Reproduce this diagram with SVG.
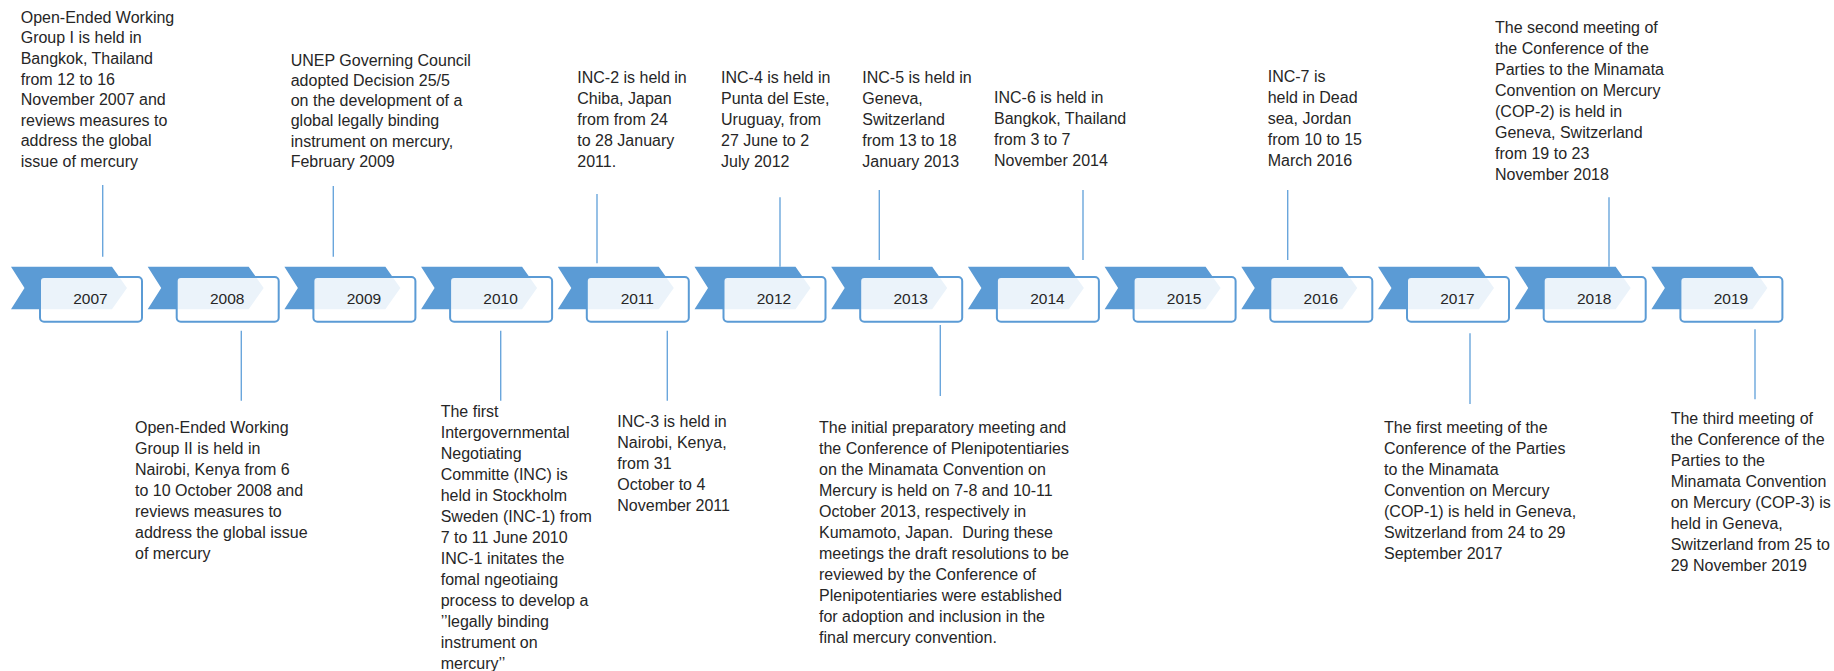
<svg xmlns="http://www.w3.org/2000/svg" xmlns:xlink="http://www.w3.org/1999/xlink" width="1834" height="671" viewBox="0 0 1834 671">
<style>
.chev{fill:#5b9bd5}
.box{fill:#ffffff;fill-opacity:0.88;stroke:#5b9bd5;stroke-width:2}
.yr{font-family:"Liberation Sans",Arial,sans-serif;font-size:15.5px;fill:#262626;text-anchor:middle}
.t{font-family:"Liberation Sans",Arial,sans-serif;font-size:16px;fill:#262626}
.ln{stroke:#6aa6dc;stroke-width:1.4;fill:none}
</style>
<defs>
<path id="chev" d="M0,266.7 L101,266.7 L116,288 L101,309.3 L0,309.3 L13.5,288 Z"/>
<rect id="box" x="29" y="277" width="102" height="44.7" rx="4" ry="4"/>
</defs>
<rect width="1834" height="671" fill="#ffffff"/>

<g id="timeline">
<g id="y2007" transform="translate(11,0)"><use xlink:href="#chev" class="chev"/><use xlink:href="#box" class="box"/><text class="yr" x="79.5" y="304">2007</text></g>
<g id="y2008" transform="translate(147.7,0)"><use xlink:href="#chev" class="chev"/><use xlink:href="#box" class="box"/><text class="yr" x="79.5" y="304">2008</text></g>
<g id="y2009" transform="translate(284.4,0)"><use xlink:href="#chev" class="chev"/><use xlink:href="#box" class="box"/><text class="yr" x="79.5" y="304">2009</text></g>
<g id="y2010" transform="translate(421.1,0)"><use xlink:href="#chev" class="chev"/><use xlink:href="#box" class="box"/><text class="yr" x="79.5" y="304">2010</text></g>
<g id="y2011" transform="translate(557.8,0)"><use xlink:href="#chev" class="chev"/><use xlink:href="#box" class="box"/><text class="yr" x="79.5" y="304">2011</text></g>
<g id="y2012" transform="translate(694.5,0)"><use xlink:href="#chev" class="chev"/><use xlink:href="#box" class="box"/><text class="yr" x="79.5" y="304">2012</text></g>
<g id="y2013" transform="translate(831.2,0)"><use xlink:href="#chev" class="chev"/><use xlink:href="#box" class="box"/><text class="yr" x="79.5" y="304">2013</text></g>
<g id="y2014" transform="translate(967.9,0)"><use xlink:href="#chev" class="chev"/><use xlink:href="#box" class="box"/><text class="yr" x="79.5" y="304">2014</text></g>
<g id="y2015" transform="translate(1104.6,0)"><use xlink:href="#chev" class="chev"/><use xlink:href="#box" class="box"/><text class="yr" x="79.5" y="304">2015</text></g>
<g id="y2016" transform="translate(1241.3,0)"><use xlink:href="#chev" class="chev"/><use xlink:href="#box" class="box"/><text class="yr" x="79.5" y="304">2016</text></g>
<g id="y2017" transform="translate(1378,0)"><use xlink:href="#chev" class="chev"/><use xlink:href="#box" class="box"/><text class="yr" x="79.5" y="304">2017</text></g>
<g id="y2018" transform="translate(1514.7,0)"><use xlink:href="#chev" class="chev"/><use xlink:href="#box" class="box"/><text class="yr" x="79.5" y="304">2018</text></g>
<g id="y2019" transform="translate(1651.4,0)"><use xlink:href="#chev" class="chev"/><use xlink:href="#box" class="box"/><text class="yr" x="79.5" y="304">2019</text></g>
</g>

<g id="connectors">
<line class="ln" x1="102.7" y1="185" x2="102.7" y2="256.7"/>
<line class="ln" x1="333.3" y1="186" x2="333.3" y2="256.7"/>
<line class="ln" x1="597" y1="194" x2="597" y2="263.3"/>
<line class="ln" x1="780" y1="197.3" x2="780" y2="266.7"/>
<line class="ln" x1="879.3" y1="190" x2="879.3" y2="260"/>
<line class="ln" x1="1083" y1="190" x2="1083" y2="260"/>
<line class="ln" x1="1287.7" y1="190" x2="1287.7" y2="260"/>
<line class="ln" x1="1609" y1="197.3" x2="1609" y2="266.7"/>
<line class="ln" x1="241.3" y1="330.7" x2="241.3" y2="400.7"/>
<line class="ln" x1="500.7" y1="330.7" x2="500.7" y2="400.7"/>
<line class="ln" x1="667.3" y1="330.7" x2="667.3" y2="400.7"/>
<line class="ln" x1="940.3" y1="325" x2="940.3" y2="396"/>
<line class="ln" x1="1470" y1="333.3" x2="1470" y2="404"/>
<line class="ln" x1="1755" y1="329.3" x2="1755" y2="399.3"/>
</g>

<g id="e2007"><text class="t" x="20.7" y="22.7"><tspan x="20.7">Open-Ended Working</tspan><tspan x="20.7" dy="20.6">Group I is held in</tspan><tspan x="20.7" dy="20.6">Bangkok, Thailand</tspan><tspan x="20.7" dy="20.6">from 12 to 16</tspan><tspan x="20.7" dy="20.6">November 2007 and</tspan><tspan x="20.7" dy="20.6">reviews measures to</tspan><tspan x="20.7" dy="20.6">address the global</tspan><tspan x="20.7" dy="20.6">issue of mercury</tspan></text></g>

<g id="e2009"><text class="t" x="290.7" y="65.5"><tspan x="290.7">UNEP Governing Council</tspan><tspan x="290.7" dy="20.3">adopted Decision 25/5</tspan><tspan x="290.7" dy="20.3">on the development of a</tspan><tspan x="290.7" dy="20.3">global legally binding</tspan><tspan x="290.7" dy="20.3">instrument on mercury,</tspan><tspan x="290.7" dy="20.3">February 2009</tspan></text></g>

<g id="e2011a"><text class="t" x="577.3" y="82.7"><tspan x="577.3">INC-2 is held in</tspan><tspan x="577.3" dy="21">Chiba, Japan</tspan><tspan x="577.3" dy="21">from from 24</tspan><tspan x="577.3" dy="21">to 28 January</tspan><tspan x="577.3" dy="21">2011.</tspan></text></g>

<g id="e2012"><text class="t" x="721" y="82.7"><tspan x="721">INC-4 is held in</tspan><tspan x="721" dy="21">Punta del Este,</tspan><tspan x="721" dy="21">Uruguay, from</tspan><tspan x="721" dy="21">27 June to 2</tspan><tspan x="721" dy="21">July 2012</tspan></text></g>

<g id="e2013a"><text class="t" x="862.3" y="82.7"><tspan x="862.3">INC-5 is held in</tspan><tspan x="862.3" dy="21">Geneva,</tspan><tspan x="862.3" dy="21">Switzerland</tspan><tspan x="862.3" dy="21">from 13 to 18</tspan><tspan x="862.3" dy="21">January 2013</tspan></text></g>

<g id="e2014"><text class="t" x="994" y="103"><tspan x="994">INC-6 is held in</tspan><tspan x="994" dy="21">Bangkok, Thailand</tspan><tspan x="994" dy="21">from 3 to 7</tspan><tspan x="994" dy="21">November 2014</tspan></text></g>

<g id="e2016"><text class="t" x="1267.7" y="82"><tspan x="1267.7">INC-7 is</tspan><tspan x="1267.7" dy="21">held in Dead</tspan><tspan x="1267.7" dy="21">sea, Jordan</tspan><tspan x="1267.7" dy="21">from 10 to 15</tspan><tspan x="1267.7" dy="21">March 2016</tspan></text></g>

<g id="e2018"><text class="t" x="1495" y="33.3"><tspan x="1495">The second meeting of</tspan><tspan x="1495" dy="21">the Conference of the</tspan><tspan x="1495" dy="21">Parties to the Minamata</tspan><tspan x="1495" dy="21">Convention on Mercury</tspan><tspan x="1495" dy="21">(COP-2) is held in</tspan><tspan x="1495" dy="21">Geneva, Switzerland</tspan><tspan x="1495" dy="21">from 19 to 23</tspan><tspan x="1495" dy="21">November 2018</tspan></text></g>

<g id="e2008"><text class="t" x="135" y="432.7"><tspan x="135">Open-Ended Working</tspan><tspan x="135" dy="21">Group II is held in</tspan><tspan x="135" dy="21">Nairobi, Kenya from 6</tspan><tspan x="135" dy="21">to 10 October 2008 and</tspan><tspan x="135" dy="21">reviews measures to</tspan><tspan x="135" dy="21">address the global issue</tspan><tspan x="135" dy="21">of mercury</tspan></text></g>

<g id="e2010"><text class="t" x="440.7" y="416.7"><tspan x="440.7">The first</tspan><tspan x="440.7" dy="21">Intergovernmental</tspan><tspan x="440.7" dy="21">Negotiating</tspan><tspan x="440.7" dy="21">Committe (INC) is</tspan><tspan x="440.7" dy="21">held in Stockholm</tspan><tspan x="440.7" dy="21">Sweden (INC-1) from</tspan><tspan x="440.7" dy="21">7 to 11 June 2010</tspan><tspan x="440.7" dy="21">INC-1 initates the</tspan><tspan x="440.7" dy="21">fomal ngeotiaing</tspan><tspan x="440.7" dy="21">process to develop a</tspan><tspan x="440.7" dy="21">’’legally binding</tspan><tspan x="440.7" dy="21">instrument on</tspan><tspan x="440.7" dy="21">mercury’’</tspan></text></g>

<g id="e2011b"><text class="t" x="617.3" y="426.7"><tspan x="617.3">INC-3 is held in</tspan><tspan x="617.3" dy="21">Nairobi, Kenya,</tspan><tspan x="617.3" dy="21">from 31</tspan><tspan x="617.3" dy="21">October to 4</tspan><tspan x="617.3" dy="21">November 2011</tspan></text></g>

<g id="e2013b"><text class="t" x="819" y="433.3" xml:space="preserve"><tspan x="819">The initial preparatory meeting and</tspan><tspan x="819" dy="21">the Conference of Plenipotentiaries</tspan><tspan x="819" dy="21">on the Minamata Convention on</tspan><tspan x="819" dy="21">Mercury is held on 7-8 and 10-11</tspan><tspan x="819" dy="21">October 2013, respectively in</tspan><tspan x="819" dy="21">Kumamoto, Japan.  During these</tspan><tspan x="819" dy="21">meetings the draft resolutions to be</tspan><tspan x="819" dy="21">reviewed by the Conference of</tspan><tspan x="819" dy="21">Plenipotentiaries were established</tspan><tspan x="819" dy="21">for adoption and inclusion in the</tspan><tspan x="819" dy="21">final mercury convention.</tspan></text></g>

<g id="e2017"><text class="t" x="1384" y="433.3"><tspan x="1384">The first meeting of the</tspan><tspan x="1384" dy="21">Conference of the Parties</tspan><tspan x="1384" dy="21">to the Minamata</tspan><tspan x="1384" dy="21">Convention on Mercury</tspan><tspan x="1384" dy="21">(COP-1) is held in Geneva,</tspan><tspan x="1384" dy="21">Switzerland from 24 to 29</tspan><tspan x="1384" dy="21">September 2017</tspan></text></g>

<g id="e2019"><text class="t" x="1670.7" y="424.3"><tspan x="1670.7">The third meeting of</tspan><tspan x="1670.7" dy="21">the Conference of the</tspan><tspan x="1670.7" dy="21">Parties to the</tspan><tspan x="1670.7" dy="21">Minamata Convention</tspan><tspan x="1670.7" dy="21">on Mercury (COP-3) is</tspan><tspan x="1670.7" dy="21">held in Geneva,</tspan><tspan x="1670.7" dy="21">Switzerland from 25 to</tspan><tspan x="1670.7" dy="21">29 November 2019</tspan></text></g>
</svg>
